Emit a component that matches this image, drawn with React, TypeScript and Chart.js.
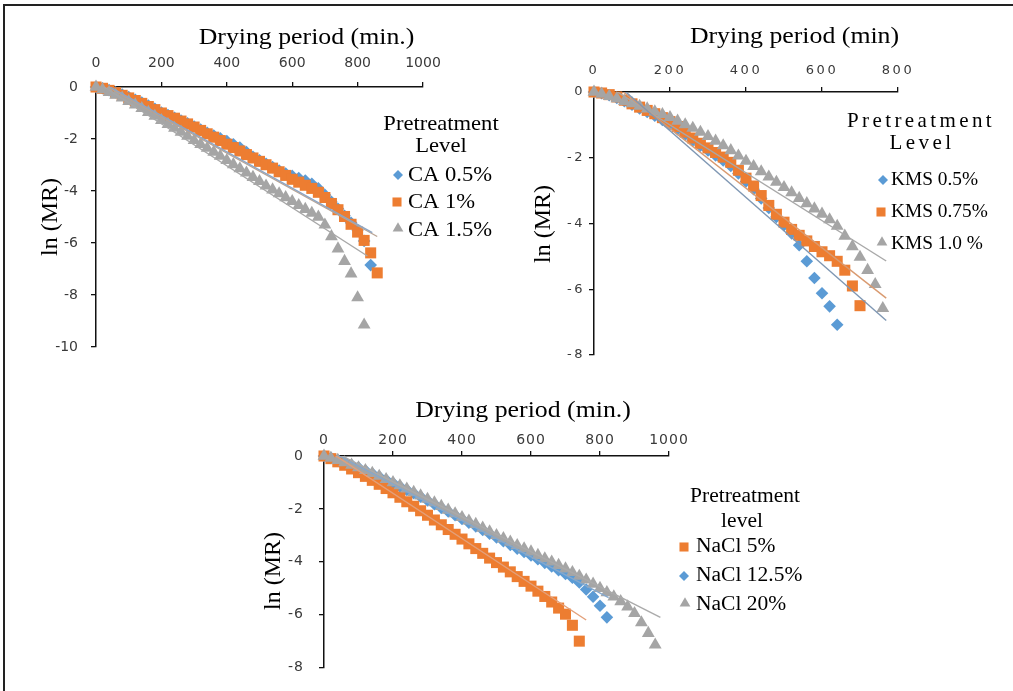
import React, { useEffect, useRef } from 'react';
import { Chart, registerables } from 'chart.js';

Chart.register(...registerables);

const W = 1013;
const H = 691;

const BLUE = '#5b9bd5';
const ORANGE = '#ed7d31';
const GRAY = '#a5a5a5';

// ---------- Panel 1 : citric acid (CA) ----------
const caTime = [0, 20, 40, 60, 80, 100, 120, 140, 160, 180, 200, 220, 240, 260, 280, 300, 320, 340, 360, 380, 400, 420, 440, 460, 480, 500, 520, 540, 560, 580, 600, 620, 640, 660, 680, 700, 720, 740, 760, 780, 800, 820, 840, 860];
const caHalf = [0, -0.05, -0.12, -0.2, -0.29, -0.39, -0.49, -0.6, -0.71, -0.84, -0.98, -1.08, -1.18, -1.29, -1.4, -1.52, -1.64, -1.76, -1.87, -1.97, -2.08, -2.2, -2.33, -2.5, -2.68, -2.82, -2.95, -3.08, -3.21, -3.33, -3.42, -3.5, -3.6, -3.72, -3.9, -4.15, -4.42, -4.68, -4.95, -5.22, -5.5, -5.92, -6.85];
const caOne = [0, -0.05, -0.13, -0.22, -0.32, -0.42, -0.52, -0.63, -0.75, -0.87, -1.0, -1.1, -1.2, -1.31, -1.42, -1.54, -1.67, -1.8, -1.93, -2.06, -2.2, -2.33, -2.46, -2.6, -2.73, -2.86, -2.99, -3.12, -3.26, -3.4, -3.55, -3.66, -3.78, -3.9, -4.05, -4.25, -4.48, -4.72, -4.98, -5.28, -5.58, -5.9, -6.38, -7.15];
const caOneHalf = [0, -0.1, -0.2, -0.31, -0.42, -0.55, -0.68, -0.82, -0.97, -1.12, -1.28, -1.43, -1.58, -1.73, -1.89, -2.05, -2.2, -2.35, -2.5, -2.66, -2.82, -2.98, -3.14, -3.3, -3.47, -3.63, -3.8, -3.95, -4.1, -4.25, -4.4, -4.55, -4.7, -4.85, -5.0, -5.3, -5.75, -6.22, -6.7, -7.18, -8.1, -9.15];
const caTrendHalf = [[0, 0.3], [845, -5.6]];
const caTrendOne = [[0, 0.25], [860, -5.75]];
const caTrendOneHalf = [[0, 0.2], [830, -6.5]];
const caLabels = ['CA 0.5%', 'CA 1%', 'CA 1.5%'];
const caXTicks = [0, 200, 400, 600, 800, 1000];
const caYTicks = [0, -2, -4, -6, -8, -10];

// ---------- Panel 2 : potassium metabisulphite (KMS) ----------
const kmsTime = [0, 20, 40, 60, 80, 100, 120, 140, 160, 180, 200, 220, 240, 260, 280, 300, 320, 340, 360, 380, 400, 420, 440, 460, 480, 500, 520, 540, 560, 580, 600, 620, 640, 660, 680, 700, 720, 740, 760];
const kmsHalf = [0, -0.04, -0.1, -0.18, -0.28, -0.39, -0.5, -0.61, -0.72, -0.85, -0.98, -1.13, -1.3, -1.47, -1.63, -1.78, -1.93, -2.08, -2.25, -2.48, -2.72, -2.96, -3.24, -3.53, -3.8, -4.05, -4.3, -4.66, -5.15, -5.66, -6.12, -6.52, -7.08];
const kmsThreeQuarter = [0, -0.03, -0.08, -0.15, -0.25, -0.36, -0.46, -0.56, -0.66, -0.78, -0.9, -1.05, -1.22, -1.4, -1.56, -1.7, -1.84, -1.98, -2.14, -2.38, -2.62, -2.86, -3.15, -3.45, -3.72, -3.96, -4.18, -4.36, -4.53, -4.7, -4.86, -4.98, -5.15, -5.42, -5.9, -6.5];
const kmsOne = [0, -0.06, -0.13, -0.2, -0.28, -0.35, -0.43, -0.51, -0.6, -0.68, -0.77, -0.88, -0.99, -1.1, -1.22, -1.35, -1.49, -1.63, -1.78, -1.94, -2.1, -2.26, -2.42, -2.58, -2.74, -2.9, -3.06, -3.23, -3.39, -3.55, -3.71, -3.88, -4.08, -4.38, -4.7, -5.02, -5.42, -5.85, -6.58];
const kmsTrendHalf = [[0, 0.85], [769, -6.95]];
const kmsTrendThreeQuarter = [[0, 0.7], [769, -6.27]];
const kmsTrendOne = [[0, 0.45], [769, -5.14]];
const kmsLabels = ['KMS 0.5%', 'KMS 0.75%', 'KMS 1.0 %'];
const kmsXTicks = [0, 200, 400, 600, 800];
const kmsYTicks = [0, -2, -4, -6, -8];

// ---------- Panel 3 : sodium chloride (NaCl) ----------
const naclTime = [0, 20, 40, 60, 80, 100, 120, 140, 160, 180, 200, 220, 240, 260, 280, 300, 320, 340, 360, 380, 400, 420, 440, 460, 480, 500, 520, 540, 560, 580, 600, 620, 640, 660, 680, 700, 720, 740, 760, 780, 800, 820, 840, 860, 880, 900, 920, 940, 960];
const naclFive = [0, -0.1, -0.22, -0.35, -0.49, -0.63, -0.77, -0.92, -1.07, -1.23, -1.39, -1.56, -1.73, -1.9, -2.07, -2.24, -2.42, -2.6, -2.78, -2.96, -3.14, -3.32, -3.5, -3.68, -3.86, -4.03, -4.2, -4.38, -4.56, -4.74, -4.92, -5.11, -5.31, -5.52, -5.75, -5.98, -6.4, -7.0];
const naclTwelve = [0, -0.07, -0.15, -0.24, -0.34, -0.44, -0.55, -0.66, -0.78, -0.9, -1.02, -1.15, -1.28, -1.41, -1.54, -1.68, -1.82, -1.96, -2.1, -2.24, -2.38, -2.52, -2.66, -2.8, -2.94, -3.08, -3.22, -3.36, -3.5, -3.63, -3.76, -3.9, -4.04, -4.18, -4.32, -4.46, -4.6, -4.78, -5.05, -5.32, -5.66, -6.1];
const naclTwenty = [0, -0.08, -0.16, -0.25, -0.34, -0.44, -0.54, -0.65, -0.76, -0.88, -1.0, -1.12, -1.24, -1.37, -1.5, -1.63, -1.76, -1.9, -2.04, -2.18, -2.32, -2.45, -2.58, -2.72, -2.86, -3.0, -3.12, -3.25, -3.38, -3.5, -3.62, -3.75, -3.88, -4.0, -4.13, -4.26, -4.4, -4.54, -4.68, -4.84, -5.0, -5.16, -5.32, -5.5, -5.7, -5.95, -6.3, -6.7, -7.14];
const naclTrendFive = [[0, 0.3], [760, -6.2]];
const naclTrendTwelve = [[0, 0.3], [825, -5.35]];
const naclTrendTwenty = [[0, 0.35], [975, -6.1]];
const naclLabels = ['NaCl 5%', 'NaCl 12.5%', 'NaCl 20%'];
const naclXTicks = [0, 200, 400, 600, 800, 1000];
const naclYTicks = [0, -2, -4, -6, -8];

const xTitles = ['Drying period (min.)', 'Drying period (min)', 'Drying period (min.)'];
const yTitle = 'ln (MR)';
const legendHeads = [['Pretreatment', 'Level'], ['Pretreatment', 'Level'], ['Pretreatment', 'level']];

// ---------- helpers ----------
const pts = (xs: number[], ys: number[]) => ys.map((y, i) => ({ x: xs[i], y }));
const seg = (p: number[][]) => p.map(([x, y]) => ({ x, y }));

const SHAPES: Record<string, string> = { diamond: 'rectRot', square: 'rect', triangle: 'triangle' };
const RADII: Record<string, number> = { diamond: 6.3, square: 7.8, triangle: 7.4 };
const LEG_RADII: Record<string, number> = { diamond: 5, square: 6.4, triangle: 6.2 };

function series(label: string, data: any[], shape: string, color: string, order: number) {
  return {
    label,
    data,
    showLine: false,
    pointStyle: SHAPES[shape],
    pointRadius: RADII[shape],
    pointBackgroundColor: color,
    pointBorderColor: color,
    pointBorderWidth: 0,
    backgroundColor: color,
    borderColor: color,
    clip: false,
    order,
  };
}

function trend(data: any[], color: string) {
  return {
    label: 'trend',
    data,
    showLine: true,
    pointRadius: 0,
    borderColor: color,
    borderWidth: 1.4,
    fill: false,
    order: 0,
  };
}

type Txt = { text: string; x: number; y: number; size: number; sx?: number; ls?: number; align?: CanvasTextAlign; rot?: number };
type Mk = { shape: string; color: string; x: number; y: number };

function drawMarker(ctx: CanvasRenderingContext2D, m: Mk) {
  const r = LEG_RADII[m.shape];
  const { x, y } = m;
  ctx.beginPath();
  if (m.shape === 'diamond') {
    ctx.moveTo(x, y - r);
    ctx.lineTo(x + r, y);
    ctx.lineTo(x, y + r);
    ctx.lineTo(x - r, y);
  } else if (m.shape === 'square') {
    const s = r * Math.SQRT1_2;
    ctx.rect(x - s, y - s, 2 * s, 2 * s);
  } else {
    const cy = y - r * 0.25;
    ctx.moveTo(x, cy - r);
    ctx.lineTo(x + r * 0.866, cy + r * 0.5);
    ctx.lineTo(x - r * 0.866, cy + r * 0.5);
  }
  ctx.closePath();
  ctx.fillStyle = m.color;
  ctx.fill();
}

function overlay(texts: Txt[], marks: Mk[], tickLs: number) {
  return {
    id: 'overlay',
    beforeDraw(chart: any) {
      chart.ctx.letterSpacing = tickLs + 'px';
    },
    afterDraw(chart: any) {
      const ctx: CanvasRenderingContext2D = chart.ctx;
      (ctx as any).letterSpacing = '0px';
      for (const m of marks) drawMarker(ctx, m);
      for (const t of texts) {
        ctx.save();
        (ctx as any).letterSpacing = (t.ls || 0) + 'px';
        ctx.font = `${t.size}px "Liberation Serif", "Times New Roman", serif`;
        ctx.fillStyle = '#000';
        ctx.textAlign = t.align || 'center';
        ctx.textBaseline = 'middle';
        ctx.translate(t.x, t.y);
        if (t.rot) ctx.rotate(t.rot);
        ctx.scale(t.sx || 1, 1);
        ctx.fillText(t.text, 0, 0);
        ctx.restore();
      }
      (ctx as any).letterSpacing = '0px';
    },
  };
}

type PanelCfg = {
  area: { l: number; t: number; r: number; b: number };
  xTicks: number[];
  yTicks: number[];
  xTickPad: number;
  yTickPad: number;
  tickSize: number;
  tickLs: number;
  datasets: any[];
  texts: Txt[];
  marks: Mk[];
};

const YW = 60;
const XH = 40;

function makeChart(canvas: HTMLCanvasElement, p: PanelCfg) {
  const tickFont = { family: '"DejaVu Sans", Verdana, sans-serif', size: p.tickSize };
  return new Chart(canvas, {
    type: 'scatter',
    data: { datasets: p.datasets },
    options: {
      responsive: false,
      animation: false,
      devicePixelRatio: 1,
      events: [],
      layout: { padding: { left: p.area.l - YW, top: p.area.t - XH, right: W - p.area.r, bottom: H - p.area.b } },
      plugins: { legend: { display: false }, tooltip: { enabled: false }, title: { display: false } },
      scales: {
        x: {
          type: 'linear',
          position: 'top',
          min: p.xTicks[0],
          max: p.xTicks[p.xTicks.length - 1],
          afterFit: (s: any) => { s.height = XH; },
          afterBuildTicks: (s: any) => { s.ticks = p.xTicks.map((v) => ({ value: v })); },
          ticks: { padding: p.xTickPad, font: tickFont, color: '#3a3a3a', maxRotation: 0, autoSkip: false, callback: (v: any) => String(v) },
          grid: { display: true, drawOnChartArea: false, drawTicks: true, tickLength: 5, color: '#111', lineWidth: 1.3 },
          border: { display: true, color: '#111', width: 1.5 },
          title: { display: false },
        },
        y: {
          type: 'linear',
          position: 'left',
          min: p.yTicks[p.yTicks.length - 1],
          max: p.yTicks[0],
          afterFit: (s: any) => { s.width = YW; },
          afterBuildTicks: (s: any) => { s.ticks = p.yTicks.slice().reverse().map((v) => ({ value: v })); },
          ticks: { padding: p.yTickPad, font: tickFont, color: '#3a3a3a', autoSkip: false, callback: (v: any) => String(v) },
          grid: { display: true, drawOnChartArea: false, drawTicks: true, tickLength: 5, color: '#111', lineWidth: 1.3 },
          border: { display: true, color: '#111', width: 1.5 },
          title: { display: false },
        },
      },
    } as any,
    plugins: [overlay(p.texts, p.marks, p.tickLs)],
  });
}

const SX = 1.075;
const ROT = -Math.PI / 2;

const PANEL_CA: PanelCfg = {
  area: { l: 96, t: 87, r: 423, b: 347 },
  xTicks: caXTicks,
  yTicks: caYTicks,
  xTickPad: 10.6,
  yTickPad: 13,
  tickSize: 14,
  tickLs: 0,
  datasets: [
    trend(seg(caTrendHalf), '#8ea6c4'),
    trend(seg(caTrendOne), '#b9a494'),
    trend(seg(caTrendOneHalf), '#a8a8a8'),
    series(caLabels[2], pts(caTime, caOneHalf), 'triangle', GRAY, 1),
    series(caLabels[1], pts(caTime, caOne), 'square', ORANGE, 2),
    series(caLabels[0], pts(caTime, caHalf), 'diamond', BLUE, 3),
  ],
  texts: [
    { text: xTitles[0], x: 306.5, y: 37.5, size: 24, sx: SX },
    { text: yTitle, x: 51, y: 217, size: 24, rot: ROT },
    { text: legendHeads[0][0], x: 441, y: 124, size: 21, sx: SX },
    { text: legendHeads[0][1], x: 441, y: 146, size: 21, sx: SX },
    { text: caLabels[0], x: 408, y: 175, size: 21, sx: SX, align: 'left' },
    { text: caLabels[1], x: 408, y: 202, size: 21, sx: SX, align: 'left' },
    { text: caLabels[2], x: 408, y: 230, size: 21, sx: SX, align: 'left' },
  ],
  marks: [
    { shape: 'diamond', color: BLUE, x: 398, y: 175 },
    { shape: 'square', color: ORANGE, x: 397, y: 202 },
    { shape: 'triangle', color: GRAY, x: 398, y: 230 },
  ],
};

const PANEL_KMS: PanelCfg = {
  area: { l: 594, t: 92, r: 898, b: 355 },
  xTicks: kmsXTicks,
  yTicks: kmsYTicks,
  xTickPad: 8.2,
  yTickPad: 4,
  tickSize: 13,
  tickLs: 2.5,
  datasets: [
    trend(seg(kmsTrendHalf), '#7f97b3'),
    trend(seg(kmsTrendThreeQuarter), '#d99a70'),
    trend(seg(kmsTrendOne), '#a8a8a8'),
    series(kmsLabels[2], pts(kmsTime, kmsOne), 'triangle', GRAY, 1),
    series(kmsLabels[1], pts(kmsTime, kmsThreeQuarter), 'square', ORANGE, 2),
    series(kmsLabels[0], pts(kmsTime, kmsHalf), 'diamond', BLUE, 3),
  ],
  texts: [
    { text: xTitles[1], x: 794.5, y: 37, size: 24, sx: SX },
    { text: yTitle, x: 544, y: 224, size: 24, rot: ROT },
    { text: legendHeads[1][0], x: 921, y: 121, size: 21, ls: 3.4 },
    { text: legendHeads[1][1], x: 922, y: 143, size: 21, ls: 3.4 },
    { text: kmsLabels[0], x: 891, y: 180, size: 18, sx: SX, align: 'left' },
    { text: kmsLabels[1], x: 891, y: 212, size: 18, sx: SX, align: 'left' },
    { text: kmsLabels[2], x: 891, y: 244, size: 18, sx: SX, align: 'left' },
  ],
  marks: [
    { shape: 'diamond', color: BLUE, x: 883, y: 180 },
    { shape: 'square', color: ORANGE, x: 881, y: 212 },
    { shape: 'triangle', color: GRAY, x: 882, y: 244 },
  ],
};

const PANEL_NACL: PanelCfg = {
  area: { l: 324, t: 456, r: 669, b: 683 },
  xTicks: naclXTicks,
  yTicks: naclYTicks,
  xTickPad: 2.6,
  yTickPad: 15,
  tickSize: 14,
  tickLs: 1,
  datasets: [
    trend(seg(naclTrendFive), '#e3a07a'),
    trend(seg(naclTrendTwelve), '#86a8cc'),
    trend(seg(naclTrendTwenty), '#ababab'),
    series(naclLabels[2], pts(naclTime, naclTwenty), 'triangle', GRAY, 1),
    series(naclLabels[0], pts(naclTime, naclFive), 'square', ORANGE, 2),
    series(naclLabels[1], pts(naclTime, naclTwelve), 'diamond', BLUE, 3),
  ],
  texts: [
    { text: xTitles[2], x: 523, y: 410.5, size: 24, sx: SX },
    { text: yTitle, x: 274, y: 571, size: 24, rot: ROT },
    { text: legendHeads[2][0], x: 745, y: 497, size: 20, sx: SX },
    { text: legendHeads[2][1], x: 742, y: 522, size: 20, sx: SX },
    { text: naclLabels[0], x: 696, y: 547, size: 20, sx: SX, align: 'left' },
    { text: naclLabels[1], x: 696, y: 576, size: 20, sx: SX, align: 'left' },
    { text: naclLabels[2], x: 696, y: 605, size: 20, sx: SX, align: 'left' },
  ],
  marks: [
    { shape: 'square', color: ORANGE, x: 684, y: 547 },
    { shape: 'diamond', color: BLUE, x: 684, y: 576 },
    { shape: 'triangle', color: GRAY, x: 685, y: 605 },
  ],
};

function PanelChart({ cfg }: { cfg: PanelCfg }) {
  const ref = useRef<HTMLCanvasElement>(null);
  useEffect(() => {
    if (!ref.current) return;
    const chart = makeChart(ref.current, cfg);
    return () => chart.destroy();
  }, [cfg]);
  return (
    <canvas
      ref={ref}
      width={W}
      height={H}
      style={{ position: 'absolute', left: 0, top: 0, width: W, height: H }}
    />
  );
}

export default function App() {
  return (
    <div style={{ position: 'absolute', left: 0, top: 0, width: W, height: H, background: '#fff', overflow: 'hidden' }}>
      <div
        style={{
          position: 'absolute',
          left: 3,
          top: 4,
          width: W + 10,
          height: H + 10,
          borderTop: '2px solid #222',
          borderLeft: '2px solid #222',
          boxSizing: 'border-box',
        }}
      />
      <PanelChart cfg={PANEL_CA} />
      <PanelChart cfg={PANEL_KMS} />
      <PanelChart cfg={PANEL_NACL} />
    </div>
  );
}
